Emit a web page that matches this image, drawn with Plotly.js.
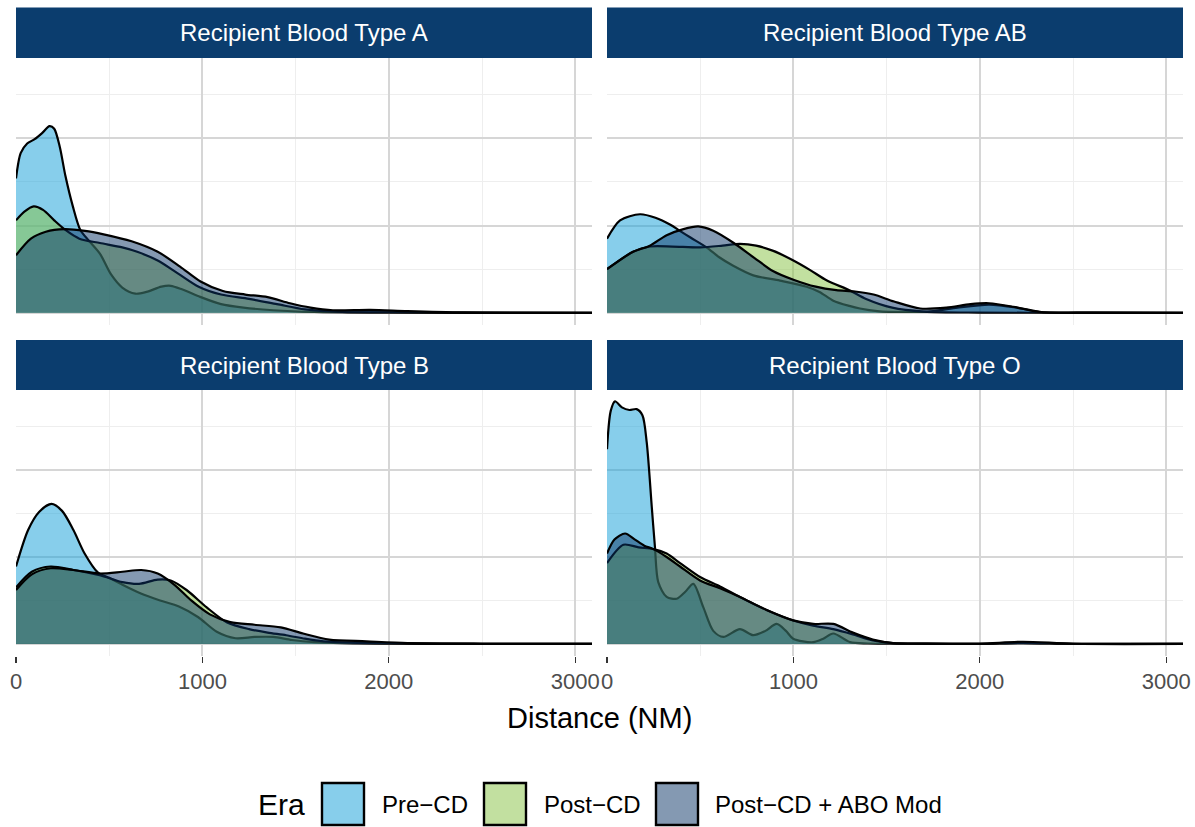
<!DOCTYPE html>
<html>
<head>
<meta charset="utf-8">
<script src="https://cdn.plot.ly/plotly-3.0.1.min.js"></script>
<style>html,body{margin:0;padding:0;background:#fff;}#chart{width:1195px;height:827px;}</style>
</head>
<body>
<div id="chart"></div>
<script>
// Density values are in units of 1e-3 per NM, distance in NM
const eras = ["Pre\u2212CD", "Post\u2212CD", "Post\u2212CD + ABO Mod"];
const panels = ["Recipient Blood Type A", "Recipient Blood Type AB", "Recipient Blood Type B", "Recipient Blood Type O"];
const tickVals = [0, 1000, 2000, 3000];
const tickText = ["0", "1000", "2000", "3000"];

// Panel A
const A_pre_x = [0,25,60,100,140,180,205,235,265,305,345,390,450,510,570,640,700,780,830,890,980,1100,1220,1380,1600,2000,2500,3090];
const A_pre_y = [1.54,1.83,1.94,1.99,2.06,2.14,2.11,1.90,1.57,1.22,0.95,0.83,0.68,0.44,0.29,0.22,0.24,0.30,0.31,0.27,0.19,0.10,0.06,0.03,0.01,0.004,0.001,0];
const A_post_x = [0,45,95,145,205,265,340,450,570,650,760,870,980,1100,1250,1400,1550,1750,2000,2500,3090];
const A_post_y = [1.06,1.16,1.22,1.18,1.06,0.95,0.85,0.80,0.75,0.70,0.60,0.45,0.30,0.21,0.16,0.10,0.04,0.01,0.005,0.001,0];
const A_abo_x = [0,80,160,260,370,470,620,760,880,990,1110,1230,1350,1470,1580,1700,1900,2100,2400,3090];
const A_abo_y = [0.66,0.85,0.93,0.96,0.94,0.90,0.82,0.70,0.53,0.36,0.25,0.21,0.18,0.11,0.06,0.03,0.035,0.02,0.005,0];

// Panel AB
const AB_pre_x = [0,70,177,260,340,391,450,534,600,677,785,928,1071,1140,1214,1300,1357,1450,1600,1750,1880,2050,2200,2330,2600,3090];
const AB_pre_y = [0.85,1.06,1.13,1.09,1.01,0.94,0.86,0.75,0.64,0.54,0.43,0.37,0.30,0.24,0.14,0.08,0.05,0.02,0.01,0.02,0.06,0.095,0.06,0.01,0.002,0];
const AB_post_x = [0,140,230,350,500,620,713,800,892,1000,1090,1180,1300,1390,1530,1700,2000,2500,3090];
const AB_post_y = [0.50,0.70,0.76,0.76,0.75,0.77,0.79,0.77,0.71,0.60,0.49,0.37,0.26,0.16,0.06,0.015,0.003,0.001,0];
const AB_abo_x = [0,140,230,320,410,490,570,680,790,890,1000,1120,1230,1330,1430,1540,1680,1820,1950,2050,2180,2320,2600,3090];
const AB_abo_y = [0.50,0.70,0.77,0.89,0.96,0.99,0.94,0.80,0.63,0.48,0.38,0.30,0.26,0.245,0.21,0.13,0.05,0.06,0.10,0.11,0.07,0.01,0.002,0];

// Panel B
const B_pre_x = [0,65,125,190,247,308,368,440,500,571,670,773,874,976,1077,1178,1280,1380,1480,1600,1750,2000,2400,3090];
const B_pre_y = [0.89,1.31,1.52,1.61,1.53,1.31,1.04,0.82,0.76,0.68,0.58,0.50,0.43,0.31,0.14,0.065,0.08,0.08,0.045,0.02,0.008,0.003,0.001,0];
const B_post_x = [0,85,186,308,449,571,660,760,830,915,1023,1130,1250,1350,1450,1550,1650,1800,2000,2500,3090];
const B_post_y = [0.65,0.83,0.89,0.85,0.79,0.71,0.69,0.74,0.73,0.62,0.42,0.25,0.17,0.13,0.10,0.06,0.03,0.015,0.008,0.001,0];
const B_abo_x = [0,85,186,308,449,571,672,760,850,940,1040,1150,1280,1420,1540,1680,1880,2100,2500,3090];
const B_abo_y = [0.62,0.80,0.87,0.85,0.81,0.83,0.85,0.81,0.68,0.50,0.34,0.25,0.22,0.19,0.12,0.05,0.03,0.01,0.002,0];

// Panel O
const O_pre_x = [0,20,43,80,120,159,190,213,240,257,275,320,374,420,463,517,570,624,713,784,850,910,960,999,1106,1160,1214,1304,1400,1600,2000,2230,2500,3090];
const O_pre_y = [2.24,2.68,2.79,2.72,2.69,2.70,2.63,2.32,1.58,1.12,0.71,0.54,0.52,0.60,0.69,0.42,0.15,0.08,0.17,0.10,0.15,0.23,0.15,0.06,0.02,0.06,0.12,0.02,0.005,0.002,0.002,0.01,0.002,0];
const O_post_x = [0,88,170,249,320,392,499,606,713,856,999,1106,1214,1319,1426,1534,1700,2000,2230,2500,3090];
const O_post_y = [0.93,1.14,1.11,1.09,1.04,0.93,0.77,0.66,0.54,0.39,0.27,0.21,0.17,0.11,0.04,0.01,0.004,0.002,0.01,0.002,0];
const O_abo_x = [0,40,97,150,200,249,320,392,499,606,713,856,999,1106,1214,1319,1426,1534,1700,2000,2230,2500,3090];
const O_abo_y = [1.04,1.20,1.27,1.20,1.13,1.09,1.00,0.89,0.73,0.64,0.54,0.39,0.27,0.23,0.23,0.13,0.05,0.01,0.004,0.002,0.025,0.002,0];

const fills = ["rgba(15,157,215,0.5)", "rgba(133,193,65,0.5)", "rgba(9,52,102,0.5)"];
const keyFills = ["rgb(135,206,235)", "rgb(194,224,160)", "rgb(132,153,178)"];
const stripColor = "#0B3D6E";

const W = 1195, H = 827;
const fx = v => v / W;
const fy = v => 1 - v / H;

const panelData = [
  [[A_pre_x, A_pre_y], [A_post_x, A_post_y], [A_abo_x, A_abo_y]],
  [[AB_pre_x, AB_pre_y], [AB_post_x, AB_post_y], [AB_abo_x, AB_abo_y]],
  [[B_pre_x, B_pre_y], [B_post_x, B_post_y], [B_abo_x, B_abo_y]],
  [[O_pre_x, O_pre_y], [O_post_x, O_post_y], [O_abo_x, O_abo_y]]
];

const cols = [[16, 592], [607, 1183]];
const rows = [[58, 325], [390, 656]];
const strips = [[7.5, 58], [340, 390]];

const traces = [];
const layout = {
  width: W, height: H,
  margin: {l: 0, r: 0, t: 0, b: 0},
  paper_bgcolor: "#fff", plot_bgcolor: "rgba(0,0,0,0)",
  showlegend: false,
  font: {family: "Liberation Sans, Arial, sans-serif"},
  shapes: [], annotations: []
};

panelData.forEach((series, i) => {
  const n = i + 1;
  const xa = n === 1 ? "x" : "x" + n;
  const ya = n === 1 ? "y" : "y" + n;
  const c = cols[i % 2], r = rows[Math.floor(i / 2)], s = strips[Math.floor(i / 2)];
  const bottom = i >= 2;
  series.forEach((d, k) => {
    traces.push({
      type: "scatter", mode: "lines", x: d[0], y: d[1],
      xaxis: xa, yaxis: ya, name: eras[k],
      fill: "tozeroy", fillcolor: fills[k],
      line: {color: "#000", width: 2.2, shape: "spline", smoothing: 0.8},
      hoverinfo: "skip"
    });
  });
  layout["xaxis" + (n === 1 ? "" : n)] = {
    domain: [fx(c[0]), fx(c[1])], anchor: ya, range: [0, 3090],
    tickmode: "array", tickvals: tickVals, ticktext: tickText,
    showgrid: true, gridcolor: "#D6D6D6", gridwidth: 2,
    minor: {tickmode: "array", tickvals: [500, 1500, 2500], showgrid: true, gridcolor: "#EEEEEE", gridwidth: 1, ticks: ""},
    zeroline: false, showline: false,
    ticks: bottom ? "outside" : "", ticklen: 6, tickwidth: 1.3, tickcolor: "#333333",
    showticklabels: bottom,
    tickfont: {size: 22, color: "#4D4D4D", family: "Liberation Sans, Arial, sans-serif"},
    fixedrange: true
  };
  layout["yaxis" + (n === 1 ? "" : n)] = {
    domain: [fy(r[1]), fy(r[0])], anchor: xa, range: [-0.139, 2.92],
    tickmode: "array", tickvals: [0, 1, 2],
    showgrid: true, gridcolor: "#D6D6D6", gridwidth: 2,
    minor: {tickmode: "array", tickvals: [0.5, 1.5, 2.5], showgrid: true, gridcolor: "#EEEEEE", gridwidth: 1, ticks: ""},
    zeroline: false, showline: false, ticks: "", showticklabels: false,
    fixedrange: true
  };
  layout.shapes.push({
    type: "rect", xref: "paper", yref: "paper",
    x0: fx(c[0]), x1: fx(c[1]), y0: fy(s[1]), y1: fy(s[0]),
    fillcolor: stripColor, line: {width: 0}, layer: "above"
  });
  layout.annotations.push({
    xref: "paper", yref: "paper", x: fx((c[0] + c[1]) / 2), y: fy((s[0] + s[1]) / 2),
    text: panels[i], showarrow: false, xanchor: "center", yanchor: "middle",
    font: {size: 24, color: "#FFFFFF"}
  });
});

// Axis title
layout.annotations.push({
  xref: "paper", yref: "paper", x: fx(599.5), y: fy(718),
  text: "Distance (NM)", showarrow: false, xanchor: "center", yanchor: "middle",
  font: {size: 29, color: "#000"}
});

// Legend
layout.annotations.push({
  xref: "paper", yref: "paper", x: fx(256), y: fy(804),
  text: "Era", showarrow: false, xanchor: "left", yanchor: "middle",
  font: {size: 30, color: "#000"}
});
const keyX = [322, 484, 656];
const labX = [380, 542, 713];
eras.forEach((e, k) => {
  layout.shapes.push({
    type: "rect", xref: "paper", yref: "paper",
    x0: fx(keyX[k]), x1: fx(keyX[k] + 42), y0: fy(825), y1: fy(783),
    fillcolor: keyFills[k], line: {color: "#000", width: 2.4}
  });
  layout.annotations.push({
    xref: "paper", yref: "paper", x: fx(labX[k]), y: fy(804),
    text: e, showarrow: false, xanchor: "left", yanchor: "middle",
    font: {size: 24, color: "#000"}
  });
});

Plotly.newPlot("chart", traces, layout, {staticPlot: true, displayModeBar: false});
</script>
</body>
</html>
